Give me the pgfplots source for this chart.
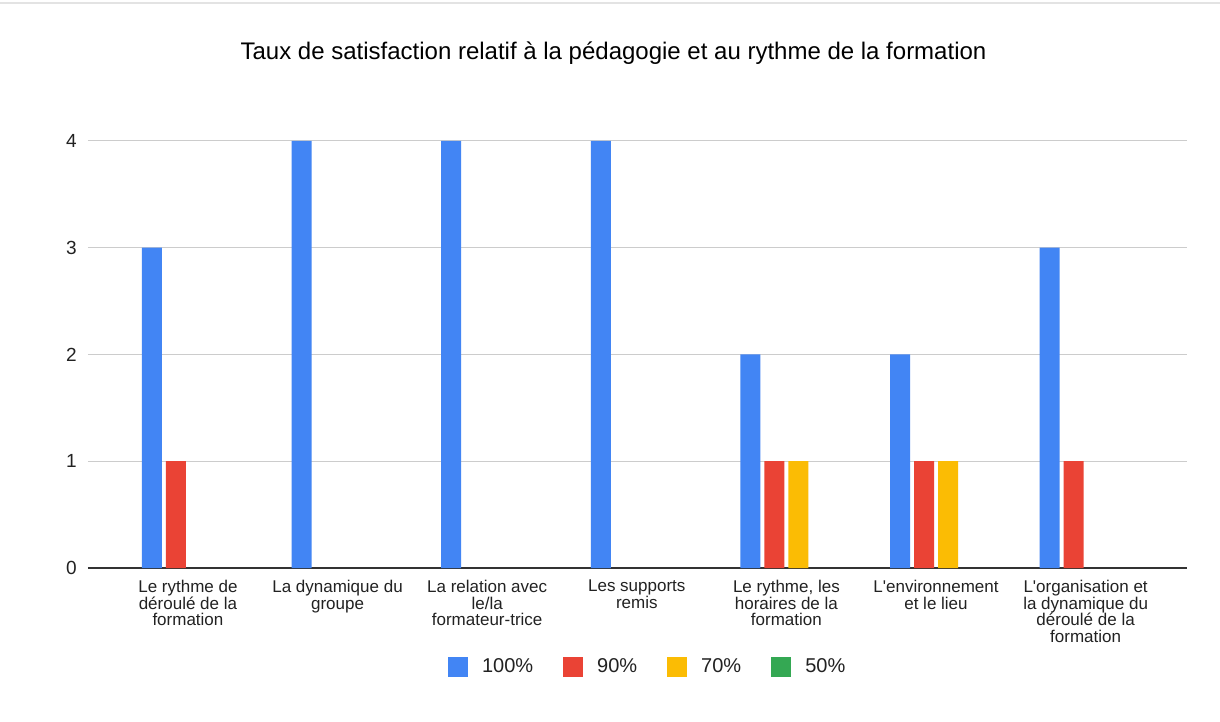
\documentclass[border=0pt]{standalone}
\usepackage{fontspec}
\setmainfont{Liberation Sans}
\usepackage{pgfplots}
\pgfplotsset{compat=1.18}
\definecolor{cblue}{HTML}{4285F4}
\definecolor{cred}{HTML}{EA4335}
\definecolor{cyellow}{HTML}{FBBC04}
\definecolor{cgreen}{HTML}{34A853}
\definecolor{gridc}{HTML}{CCCCCC}
\definecolor{axisc}{HTML}{333333}
\definecolor{txt}{HTML}{222222}
\definecolor{topc}{HTML}{E3E3E3}
\begin{document}
\begin{tikzpicture}[x=1pt,y=1pt]
% axis box lower-left corner is at (0,0); page spans 1220 x 722 around it
\path[use as bounding box, fill=white] (-88,-154) rectangle (1132,568);
\draw[color=topc, line width=1.5pt] (-88,565) -- (1132,565);
\node[anchor=base, inner sep=0pt, font=\fontsize{24}{28}\selectfont] at (525.5,508) {Taux de satisfaction relatif à la pédagogie et au rythme de la formation};
\begin{axis}[
 scale only axis, width=1099pt, height=427pt,
 xmin=-0.668, xmax=6.678, ymin=0, ymax=4,
 ybar=4pt, bar width=20pt,
 unbounded coords=discard,
 xtick={0,...,6},
 xticklabels={{Le rythme de\\déroulé de la\\formation},
   {La dynamique du\\groupe},
   {La relation avec\\le/la\\formateur-trice},
   {Les supports\\remis},
   {Le rythme, les\\horaires de la\\formation},
   {L\textquotesingle environnement\\et le lieu},
   {L\textquotesingle organisation et\\la dynamique du\\déroulé de la\\formation}},
 ytick={0,1,2,3,4},
 major tick length=0pt,
 axis lines*=left,
 y axis line style={draw=none},
 x axis line style={draw=axisc, line width=1.3pt},
 ymajorgrids, grid style={gridc, line width=1pt},
 xticklabel style={align=center, anchor=north, inner sep=0pt, yshift=-12pt, font=\fontsize{17}{16.7}\selectfont, text=txt},
 yticklabel style={anchor=east, inner sep=0pt, xshift=-11pt, font=\fontsize{19}{22}\selectfont, text=txt, /pgf/number format/assume math mode=true},
 legend style={draw=none, fill=none, inner sep=0pt, outer sep=0pt,
   at={(0.3276,-0.2077)}, anchor=north west, legend columns=4,
   font=\fontsize{20}{24}\selectfont, text=txt,
   /tikz/every odd column/.append style={column sep=14pt},
   /tikz/every even column/.append style={column sep=30pt},
   nodes={inner sep=0pt}},
 legend image code/.code={\fill[#1,draw=none] (0pt,-10.5pt) rectangle (20pt,9.5pt);},
]
\addplot[fill=cblue, draw=none] coordinates {(0,3)(1,4)(2,4)(3,4)(4,2)(5,2)(6,3)};
\addplot[fill=cred, draw=none, y filter/.expression={y==0 ? nan : y}] coordinates {(0,1)(1,0)(2,0)(3,0)(4,1)(5,1)(6,1)};
\addplot[fill=cyellow, draw=none, y filter/.expression={y==0 ? nan : y}] coordinates {(0,0)(1,0)(2,0)(3,0)(4,1)(5,1)(6,0)};
\addplot[fill=none, draw=none, legend image post style={fill=cgreen}] coordinates {(0,0)(1,0)(2,0)(3,0)(4,0)(5,0)(6,0)};
\legend{100\%,90\%,70\%,50\%}
\end{axis}
\end{tikzpicture}
\end{document}
